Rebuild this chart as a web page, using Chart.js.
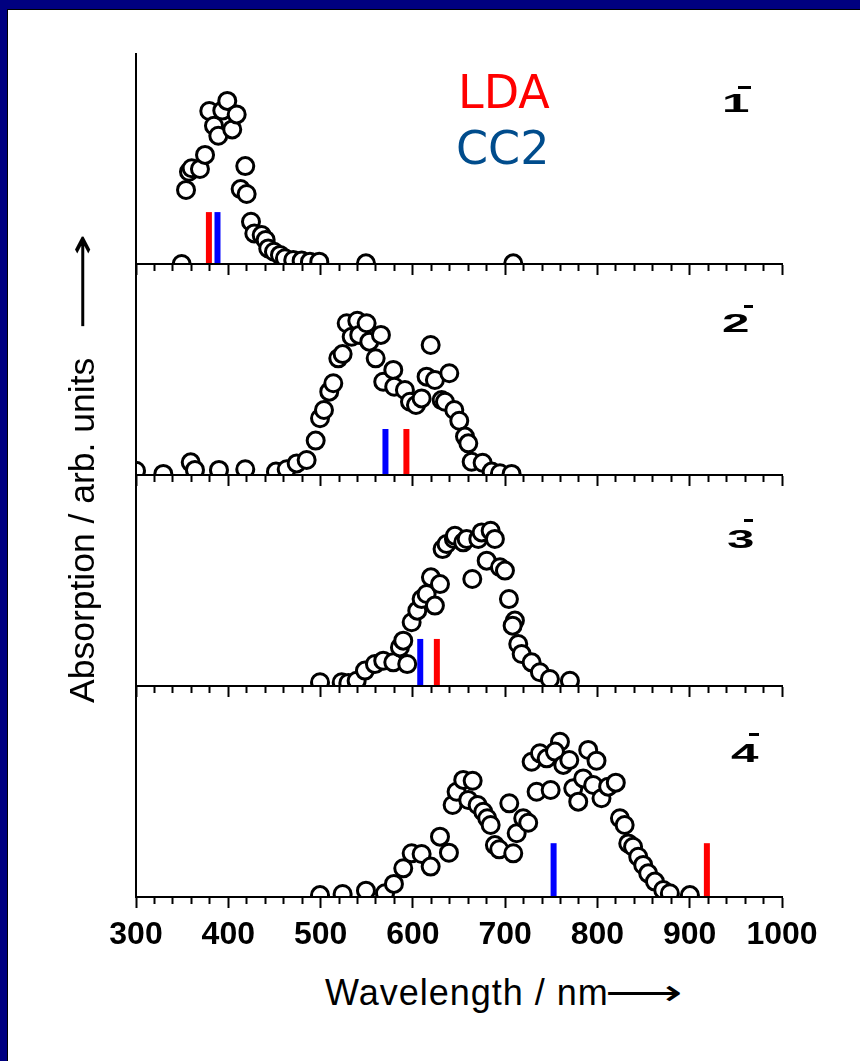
<!DOCTYPE html>
<html>
<head>
<meta charset="utf-8">
<script src="https://cdn.jsdelivr.net/npm/chart.js@4.4.0/dist/chart.umd.min.js"></script>
<style>
html,body{margin:0;padding:0;}
body{width:860px;height:1061px;position:relative;overflow:hidden;background:#000080;font-family:"Liberation Sans",Arial,sans-serif;}
#sheet{position:absolute;left:7px;top:9px;right:0;bottom:0;background:#fff;border-top:1px solid #000;border-left:1px solid #000;}
canvas{position:absolute;left:0;}
.txt{position:absolute;white-space:nowrap;line-height:1;color:#000;}
#ytitle{left:64px;top:703px;font-size:35.5px;transform-origin:0 0;transform:rotate(-90deg);}
#xtitle{left:325px;top:975px;font-size:36px;letter-spacing:1px;}
.arrow{display:inline-block;font-family:"DejaVu Sans",sans-serif;transform-origin:0 50%;}
#ytitle .arrow{margin-left:28px;transform:scaleX(1.9);}
#xtitle .arrow{margin-left:-4px;transform:scaleX(1.5);}
#lda{left:458px;top:65px;font:46px "DejaVu Sans",sans-serif;color:#ff0000;}
#cc2{left:456px;top:121px;font:46px "DejaVu Sans",sans-serif;color:#004c8c;}
.num{position:absolute;font:bold 26px "Liberation Sans",Arial,sans-serif;line-height:1;transform-origin:0 0;transform:scaleX(1.9);}
.bar{position:absolute;height:3px;background:#000;}
</style>
</head>
<body>
<div id="sheet"></div>
<canvas id="c1" width="860" height="223" style="top:53px"></canvas>
<canvas id="c2" width="860" height="223" style="top:264px"></canvas>
<canvas id="c3" width="860" height="223" style="top:475px"></canvas>
<canvas id="c4" width="860" height="271" style="top:686px"></canvas>

<div class="txt" id="lda">LDA</div>
<div class="txt" id="cc2">CC2</div>
<div class="txt" id="ytitle">Absorption / arb. units<span class="arrow">⟶</span></div>
<div class="txt" id="xtitle">Wavelength / nm<span class="arrow">⟶</span></div>

<div class="num" style="left:722px;top:90px">1</div><div class="bar" style="left:738px;top:86px;width:13px"></div>
<div class="num" style="left:722px;top:310px">2</div><div class="bar" style="left:744px;top:305px;width:9px"></div>
<div class="num" style="left:727px;top:526px">3</div><div class="bar" style="left:744px;top:519px;width:9px"></div>
<div class="num" style="left:731px;top:740px">4</div><div class="bar" style="left:749px;top:733px;width:10px"></div>

<script>
// axis
const xMin = 300, xMax = 1000;
const majorTicks = [300, 400, 500, 600, 700, 800, 900, 1000];
const minorTicks = [];
for (let v = xMin; v <= xMax; v += 20) minorTicks.push(v);

// measured spectra (wavelength nm / absorption, arb. units)
const wl1 = [349.5,354.2,357.4,360.3,369.3,374.8,379.4,384.5,389.2,393.5,398.9,404.3,409.1,413.4,418.4,419.9,424.6,428.2,436.2,440.5,443.3,449.5,456,461.4,470.4,479.5,488.5,498.6,549.2,708.8];
const ab1 = [0,0.351,0.437,0.454,0.450,0.517,0.725,0.655,0.608,0.727,0.773,0.638,0.709,0.355,0.464,0.332,0.200,0.145,0.137,0.114,0.074,0.058,0.043,0.027,0.019,0.016,0.011,0.011,0.003,0.003];

const wl2 = [300,329.6,359.3,363.9,389.9,418.4,451.7,463.3,474.1,484.9,494.7,499.4,503.7,509.4,513.8,519.2,523.9,528.3,533.7,539.8,541.9,549.9,552.8,565.4,559.7,567.9,578.8,579.8,591.4,596.9,603.4,609.5,619.3,614.9,623.9,639.5,631.2,634.8,644.9,650.3,656.5,660.1,663.7,675.6,685.4,694.4,707];
const ab2 = [0.02,0.005,0.060,0.024,0.024,0.027,0.016,0.027,0.055,0.071,0.163,0.269,0.308,0.395,0.435,0.553,0.573,0.719,0.655,0.731,0.664,0.719,0.632,0.664,0.553,0.442,0.498,0.418,0.403,0.347,0.332,0.363,0.616,0.466,0.450,0.482,0.355,0.347,0.308,0.257,0.182,0.150,0.063,0.058,0.016,0.008,0.005];

const wl3 = [499.4,522.9,530.1,539.1,548.1,558.9,567.9,578.8,593.9,586,589.6,598.7,604.8,609.5,614.9,619.6,629.4,623.9,632.2,636.5,644.5,645.6,654.6,658.3,664.4,670.9,674.5,684.3,688.9,680,694.4,699.8,704.1,710.6,708.1,714.2,717.9,728.7,737.7,748.5,770.2];
const ab3 = [0.018,0.018,0.014,0.025,0.073,0.104,0.120,0.112,0.104,0.183,0.215,0.302,0.357,0.412,0.436,0.515,0.483,0.381,0.649,0.673,0.697,0.712,0.681,0.697,0.507,0.697,0.728,0.736,0.697,0.594,0.563,0.547,0.412,0.310,0.286,0.199,0.152,0.112,0.065,0.033,0.025];

const wl4 = [499.4,523.9,549.2,569.8,579.5,589.6,598.7,609.5,619.3,629.4,639.1,643.1,647.4,654.6,664.8,660,670.2,676.3,680.6,684.3,688.9,693.6,708.8,704.5,712.5,719.6,725,728.7,737.7,745,734.1,749.3,759.4,754,763,769.5,773.8,779.2,784.6,790,799,795.4,804.4,811.6,819.9,824.4,829.5,833.4,838.6,844.2,849.6,855,862.3,871.3,878.5,900.2];
const ab4 = [0.009,0.014,0.030,0.018,0.062,0.136,0.207,0.204,0.144,0.286,0.210,0.436,0.499,0.555,0.551,0.460,0.436,0.404,0.373,0.341,0.246,0.226,0.207,0.444,0.302,0.373,0.352,0.641,0.681,0.657,0.499,0.507,0.736,0.689,0.626,0.649,0.515,0.452,0.562,0.697,0.646,0.531,0.468,0.523,0.542,0.373,0.341,0.254,0.238,0.191,0.152,0.112,0.073,0.033,0.018,0.009];

// computed excitations (nm) and drawn stick height
const ldaNm = [379, 593, 626, 918.6];
const cc2Nm = [388.3, 570.3, 608, 752.5];
const stickH = [0.246, 0.218, 0.223, 0.255];

const wls = [wl1, wl2, wl3, wl4];
const abs = [ab1, ab2, ab3, ab4];

function stick(x, h, color) {
  return {data: [{x: x, y: 0}, {x: x, y: h}], showLine: true, borderColor: color, borderWidth: 6,
    borderCapStyle: 'butt', pointRadius: 0, clip: 0};
}

function makePanel(i) {
  const last = i === 3;
  const pts = wls[i].map((x, k) => ({x: x, y: abs[i][k]}));
  new Chart(document.getElementById('c' + (i + 1)), {
    type: 'scatter',
    data: {datasets: [
      {data: pts, pointRadius: 8.5, pointBorderWidth: 3, borderColor: '#000', backgroundColor: '#fff',
        clip: {left: 0, bottom: 0, top: false, right: false}},
      stick(ldaNm[i], stickH[i], '#ff0000'),
      stick(cc2Nm[i], stickH[i], '#0000ff')
    ]},
    options: {
      responsive: false, animation: false, events: [],
      layout: {autoPadding: false, padding: {left: 136, right: 78, top: 0, bottom: 0}},
      plugins: {legend: {display: false}, tooltip: {enabled: false}},
      scales: {
        x: {
          type: 'linear', min: xMin, max: xMax,
          afterBuildTicks: s => { s.ticks = minorTicks.map(v => ({value: v})); },
          afterFit: s => { s.height = last ? 60 : 12; },
          ticks: {display: last, autoSkip: false, maxRotation: 0, minRotation: 0, padding: 8, color: '#000',
            font: {family: 'Liberation Sans', size: 32, weight: 'bold'},
            callback: v => majorTicks.includes(v) ? String(v) : ''},
          grid: {display: true, drawOnChartArea: false, drawTicks: true, tickLength: 11, tickWidth: 2, tickColor: '#000',
            tickBorderDash: c => (c.tick && majorTicks.includes(c.tick.value)) ? [] : [6, 30]},
          border: {display: true, color: '#000', width: 2, z: 1}
        },
        y: {
          min: 0, max: 1,
          afterFit: s => { s.width = 0; },
          ticks: {display: false},
          grid: {display: false},
          border: {display: true, color: '#000', width: 2, z: 1}
        }
      }
    }
  });
}

for (let i = 0; i < 4; i++) makePanel(i);
</script>
</body>
</html>
